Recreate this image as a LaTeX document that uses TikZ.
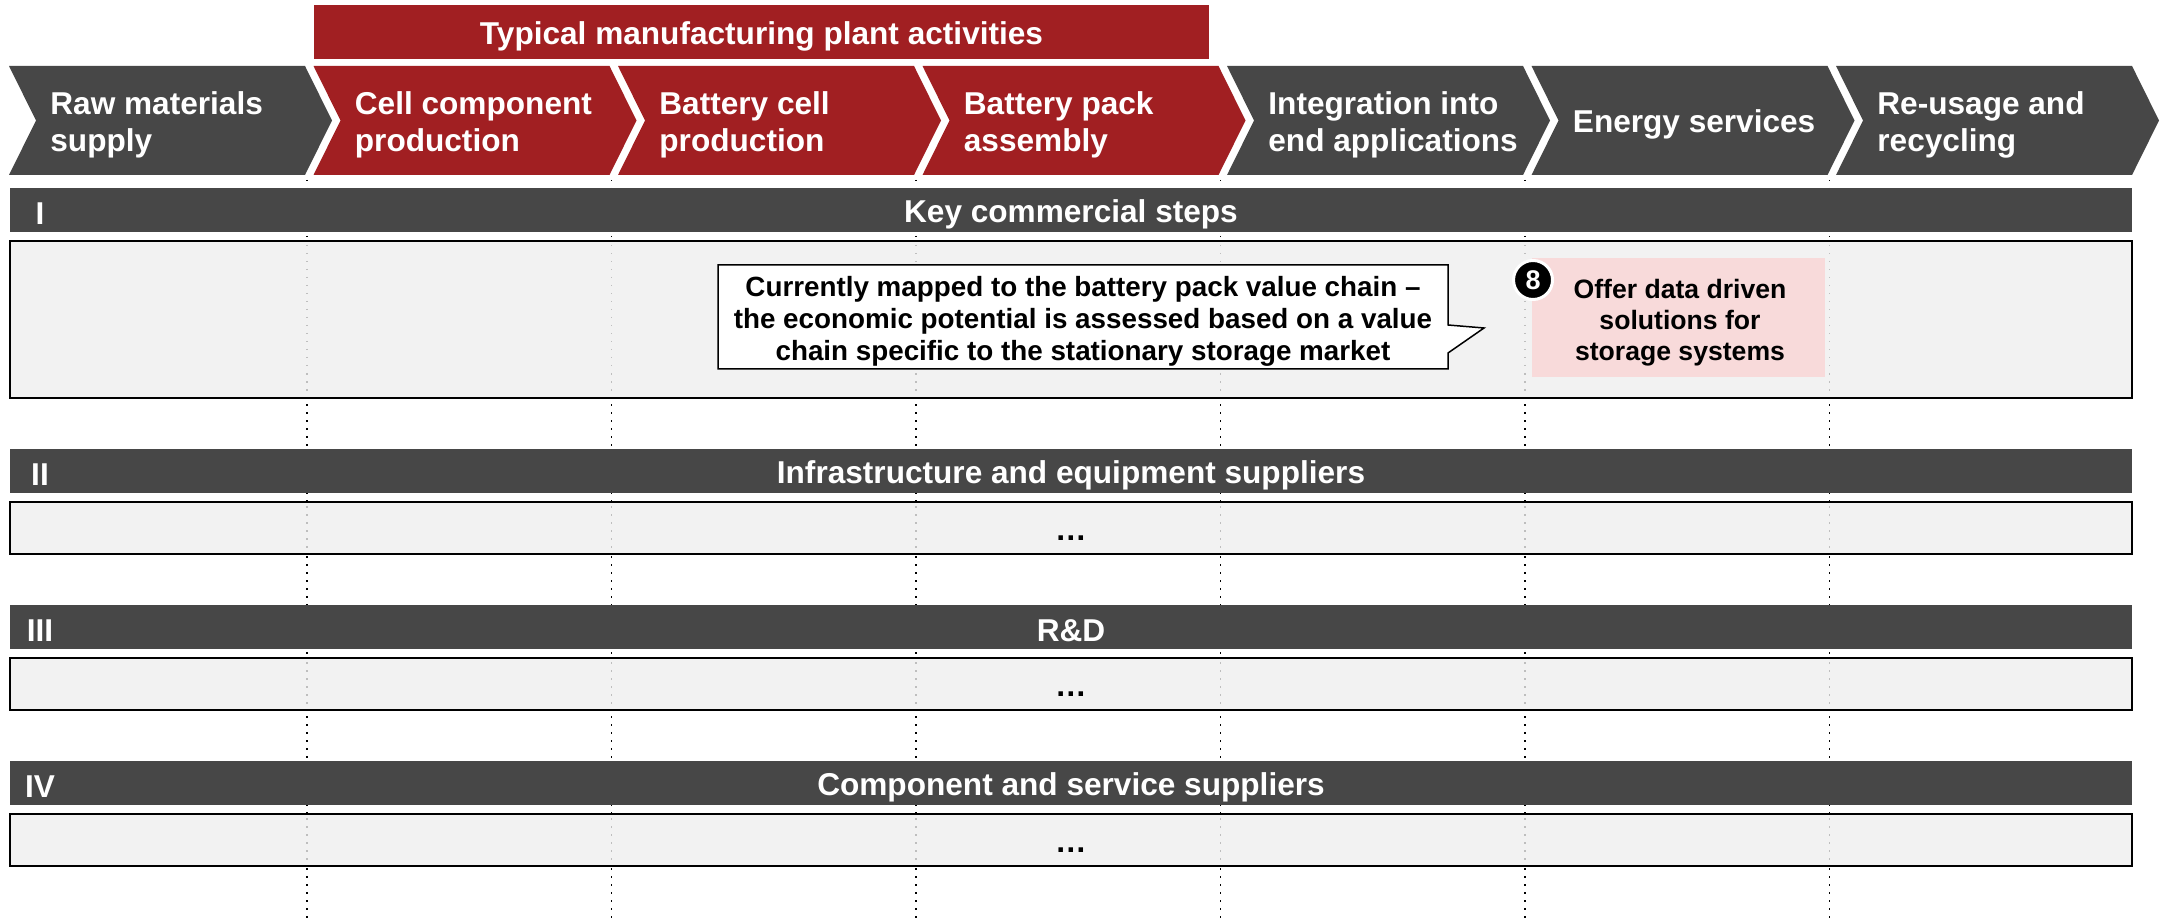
\documentclass[tikz,border=0pt]{standalone}
\usepackage{fontspec}
\setmainfont{Liberation Sans}
\definecolor{vcred}{RGB}{161,31,34}
\definecolor{vcgray}{RGB}{71,71,71}
\definecolor{boxfill}{RGB}{242,242,242}
\definecolor{pinkfill}{RGB}{248,218,218}
\definecolor{dotgray}{RGB}{190,190,190}
\begin{document}
\begin{tikzpicture}[x=0.5pt,y=-0.5pt,
  bigtxt/.style={text=white,font=\fontsize{15.8pt}{18.5pt}\selectfont\bfseries,inner sep=0pt,yshift=-2pt},
  chevtxt/.style={bigtxt,anchor=west,align=left},
  romtxt/.style={bigtxt,anchor=center},
  bandfill/.style={fill=vcgray},
  rowbox/.style={fill=boxfill,draw=black,line width=1pt},
  blackdots/.style={draw=black,line width=0.75pt,dash pattern=on 0.75pt off 3.25pt},
  graydots/.style={draw=dotgray,line width=0.75pt,dash pattern=on 0.75pt off 3.25pt},
  ellip/.style={font=\fontsize{15.8pt}{18.5pt}\selectfont\bfseries,inner sep=0pt,anchor=base,yshift=-2pt},
  calltxt/.style={font=\fontsize{13.9pt}{16pt}\selectfont\bfseries,align=center,inner sep=0pt,yshift=-2pt},
  pinktxt/.style={font=\fontsize{13.3pt}{15.5pt}\selectfont\bfseries,align=center,inner sep=0pt,yshift=-2.2pt},
  badge/.style={circle,fill=black,draw=white,line width=1.5pt,minimum size=19.5pt,inner sep=0pt,text=white,font=\fontsize{13.5pt}{15pt}\selectfont\bfseries}
]
\useasboundingbox (0,0) rectangle (2161,919);

% black dotted column separators
\foreach \k in {0,...,5}{
  \draw[blackdots] (307+304.5*\k,180) -- (307+304.5*\k,919);
}

% top banner
\fill[vcred] (314,5.5) rectangle (1209,59);
\node[bigtxt] (banner) at (761.5,32) {Typical manufacturing plant activities};

% chevrons
\foreach \k/\txt/\col in {
  0/{Raw materials\\supply}/vcgray,
  1/{Cell component\\production}/vcred,
  2/{Battery cell\\production}/vcred,
  3/{Battery pack\\assembly}/vcred,
  4/{Integration into\\end applications}/vcgray,
  5/{Energy services}/vcgray,
  6/{Re-usage and\\recycling}/vcgray}{
  \pgfmathsetmacro\L{9+304.5*\k}
  \pgfmathsetmacro\R{\L+296}
  \fill[\col] (\L,66) -- (\R,66) -- (\R+27,120.5) -- (\R,175) -- (\L,175) -- (\L+27,120.5) -- cycle;
  \node[chevtxt] (c\k) at (\L+41,120.5) {\txt};
}

% bands and boxes
\foreach \n/\rom/\title/\bt/\ct/\cb in {
  1/I/Key commercial steps/188/241/398,
  2/II/Infrastructure and equipment suppliers/449/502/554,
  3/III/R\&D/605/658/710,
  4/IV/Component and service suppliers/761/814/866}{
  \fill[bandfill] (10,\bt) rectangle (2132,\bt+44);
  \node[romtxt] (rom\n) at (40,\bt+22) {\rom};
  \node[bigtxt] (band\n) at (1071,\bt+22) {\title};
  \draw[rowbox] (10,\ct) rectangle (2132,\cb);
  \foreach \k in {0,...,5}{
    \draw[graydots] (307+304.5*\k,\ct+4) -- (307+304.5*\k,\cb-3);
  }
}

% ellipses
\node[ellip] (e2) at (1071,536) {…};
\node[ellip] (e3) at (1071,692) {…};
\node[ellip] (e4) at (1071,848) {…};

% callout
\draw[fill=white,draw=black,line width=0.75pt] (718,265) -- (1448,265) -- (1448,325) -- (1484,328) -- (1448,353) -- (1448,369) -- (718,369) -- cycle;
\node[calltxt] (callout) at (1083,317) {Currently mapped to the battery pack value chain –\\the economic potential is assessed based on a value\\chain specific to the stationary storage market};

% pink box
\fill[pinkfill] (1532,258) rectangle (1825,377);
\node[pinktxt] (offer) at (1680,318) {Offer data driven\\solutions for\\storage systems};
\node[badge] (b8) at (1533,280) {8};
\end{tikzpicture}
\end{document}
